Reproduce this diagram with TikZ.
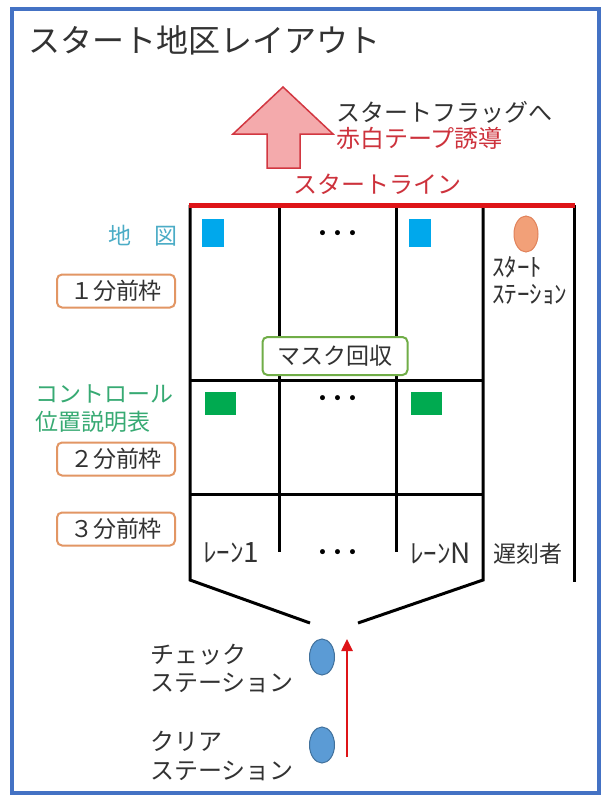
\documentclass[tikz,border=0pt]{standalone}
\usepackage{fontspec}
\setmainfont{Noto Sans CJK JP}
\usetikzlibrary{shapes.geometric,arrows.meta,positioning}
\definecolor{frameblue}{RGB}{68,114,196}
\definecolor{textgray}{RGB}{50,50,50}
\definecolor{startred}{RGB}{222,20,24}
\definecolor{labelred}{RGB}{205,50,60}
\definecolor{arrowpink}{RGB}{244,170,172}
\definecolor{arrowedge}{RGB}{210,55,65}
\definecolor{mapblue}{RGB}{0,168,236}
\definecolor{mapcyan}{RGB}{75,172,198}
\definecolor{ctlgreen}{RGB}{0,170,80}
\definecolor{ctltext}{RGB}{55,170,115}
\definecolor{boxorange}{RGB}{226,150,100}
\definecolor{boxgreen}{RGB}{112,173,71}
\definecolor{stationorange}{RGB}{242,160,120}
\definecolor{stationorangeedge}{RGB}{225,130,90}
\definecolor{stationblue}{RGB}{91,155,213}
\definecolor{stationblueedge}{RGB}{65,113,156}
\tikzset{
  every node/.style={
    inner sep=0pt
  },
  lbl/.style={
    font=\fontsize{23}{28}\selectfont,
    text=textgray
  },
  redlbl/.style={
    font=\fontsize{24}{28}\selectfont,
    text=labelred
  },
  timebox/.style={
    draw=boxorange,
    line width=2pt,
    rounded corners=5pt,
    fill=white,
    minimum width=118pt,
    minimum height=33pt,
    font=\fontsize{23}{28}\selectfont,
    text=textgray
  },
  maskbox/.style={
    draw=boxgreen,
    line width=2pt,
    rounded corners=5pt,
    fill=white,
    minimum width=145pt,
    minimum height=38pt,
    font=\fontsize{23}{28}\selectfont,
    text=textgray
  },
  mapsq/.style={
    fill=mapblue,
    minimum width=22pt,
    minimum height=28pt
  },
  ctlsq/.style={
    fill=ctlgreen,
    minimum width=31pt,
    minimum height=23pt
  },
  station/.style={
    shape=ellipse,
    fill=stationblue,
    draw=stationblueedge,
    line width=1pt,
    minimum width=25pt,
    minimum height=36pt
  },
  lanedots/.style={
    font=\fontsize{30}{32}\selectfont,
    text=black
  },
  laneline/.style={
    draw=black,
    line width=3pt
  }
}
\begin{document}
\begin{tikzpicture}[x=1pt,y=-1pt]
    \useasboundingbox[fill=white] (0,0) rectangle (608,796);
    \draw[frameblue, line width=3.5pt] (12,9) rectangle (599,793);
    \node[lbl, anchor=west, font=\fontsize{32}{36}\selectfont] (title) at (28,40) {スタート地区レイアウト};

    \draw[fill=arrowpink, draw=arrowedge, line width=1.5pt]
      (283,87) -- (333,134) -- (300,134) -- (300,168) -- (267,168) -- (267,134) -- (233,134) -- cycle;
    \node[lbl, anchor=west, font=\fontsize{24}{28}\selectfont] (flag) at (336,112) {スタートフラッグへ};
    \node[redlbl, anchor=west] (tape) at (336,138) {赤白テープ誘導};
    \node[redlbl] (startline) at (377,184) {スタートライン};

    \draw[laneline] (279,205) -- (279,552);
    \draw[laneline] (396,205) -- (396,552);
    \draw[laneline] (574,205) -- (574,582);
    \draw[laneline] (190,380) -- (483,380);
    \draw[laneline] (190,494) -- (483,494);
    \draw[laneline] (190,205) -- (190,580) -- (310,623);
    \draw[laneline] (483,205) -- (483,580) -- (358,623);
    \draw[startred, line width=5pt] (189,205) -- (575,205);

    \node[mapsq] (map1) at (213,233) {};
    \node[mapsq] (map2) at (420,233) {};
    \node[ctlsq] (ctl1) at (220,403) {};
    \node[ctlsq] (ctl2) at (426,403) {};
    \node[lanedots] (dots1) at (338,238) {･･･};
    \node[lanedots] (dots2) at (338,403) {･･･};
    \node[lanedots] (dots3) at (338,557) {･･･};

    \node[shape=ellipse, fill=stationorange, draw=stationorangeedge, line width=1pt,
      minimum width=24pt, minimum height=36pt] (startst) at (526,234) {};
    \node[lbl, anchor=west, align=left, font=\fontsize{25}{27}\selectfont] (startlbl) at (492,281) {ｽﾀｰﾄ\\ｽﾃｰｼｮﾝ};

    \node[maskbox] (mask) at (335,356) {マスク回収};

    \node[lbl, text=mapcyan, anchor=east] (maplbl) at (178,236) {地　図};
    \node[timebox] (min1) at (116,291) {１分前枠};
    \node[lbl, text=ctltext, anchor=west, align=left] (ctllbl) at (35,409) {コントロール\\位置説明表};
    \node[timebox] (min2) at (116,459) {２分前枠};
    \node[timebox] (min3) at (116,529) {３分前枠};

    \node[lbl, anchor=west, font=\fontsize{27}{28}\selectfont] (lane1) at (203,553) {ﾚｰﾝ{\fontsize{28}{30}\selectfont 1}};
    \node[lbl, anchor=west, font=\fontsize{27}{28}\selectfont] (laneN) at (410,553) {ﾚｰﾝ{\fontsize{28}{30}\selectfont N}};
    \node[lbl, anchor=west] (late) at (493,554) {遅刻者};

    \node[station] (check) at (322,657) {};
    \node[station] (clear) at (322,745) {};
    \node[lbl, anchor=west, align=left, font=\fontsize{24}{28}\selectfont] (checklbl) at (150,668) {チェック\\ステーション};
    \node[lbl, anchor=west, align=left, font=\fontsize{24}{29}\selectfont] (clearlbl) at (150,756) {クリア\\ステーション};
    \coordinate (flowstart) at (347,757);
    \coordinate (flowend) at (347,639);
    \draw[startred, line width=2.5pt, -{Triangle[length=12pt,width=11pt]}] (flowstart) -- (flowend);
\end{tikzpicture}
\end{document}
